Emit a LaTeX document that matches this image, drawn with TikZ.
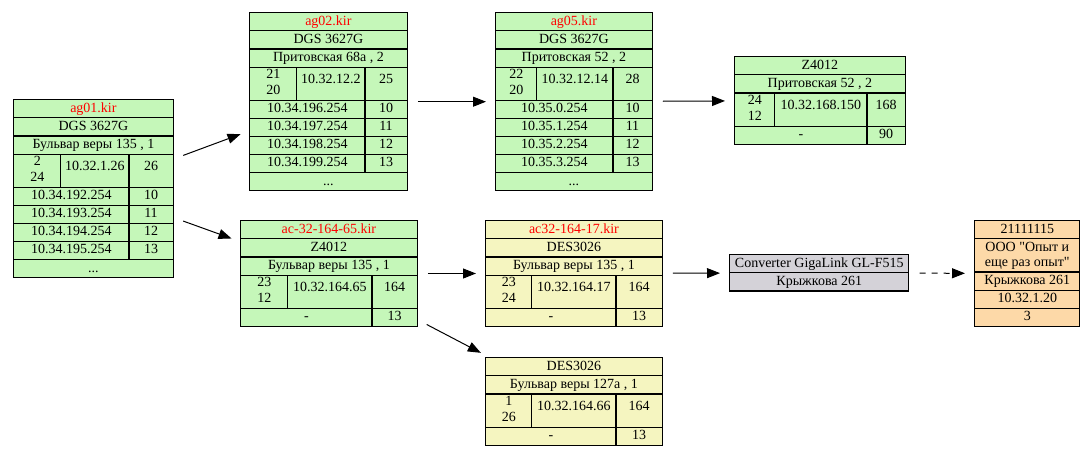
\documentclass[tikz,border=0pt]{standalone}
\usepackage{fontspec}
\setmainfont{Liberation Serif}
\usepackage{array}
\usetikzlibrary{arrows.meta}
\newcolumntype{C}[1]{>{\centering\arraybackslash}m{#1}}
\setlength\tabcolsep{0pt}
\setlength\arrayrulewidth{1.1pt}
\renewcommand\arraystretch{1.1333}
\newcommand\ports[2]{{\renewcommand\arraystretch{1.0667}\begin{tabular}{@{}c@{}}#1\\#2\end{tabular}}}
\definecolor{devgreen}{RGB}{197,247,185}
\definecolor{devyellow}{RGB}{245,245,192}
\definecolor{devgray}{RGB}{212,210,216}
\definecolor{devorange}{RGB}{253,217,168}

\begin{document}
\begin{tikzpicture}[x=1pt, y=-1pt, >={Triangle[length=13pt,width=10pt]},
    dev/.style={fill=#1, inner sep=0pt, anchor=north west, font=\fontsize{14}{15}\selectfont},
    link/.style={->, line width=1pt, shorten <=10pt, shorten >=9pt}]
      \useasboundingbox (0,0) rectangle (1084,453);
      % switches
      \node[dev=devgreen] (ag01) at (13,99) {\begin{tabular}{|C{46pt}|C{67pt}|C{43pt}|}\hline
        \multicolumn{3}{|c|}{\color{red}ag01.kir}\\\hline
        \multicolumn{3}{|c|}{DGS 3627G}\\\hline
        \multicolumn{3}{|c|}{Бульвар веры 135 , 1}\\\hline
        \ports{2}{24} & 10.32.1.26 & 26\\\hline
        \multicolumn{2}{|c|}{10.34.192.254} & 10\\\hline
        \multicolumn{2}{|c|}{10.34.193.254} & 11\\\hline
        \multicolumn{2}{|c|}{10.34.194.254} & 12\\\hline
        \multicolumn{2}{|c|}{10.34.195.254} & 13\\\hline
        \multicolumn{3}{|c|}{...}\\\hline
      \end{tabular}};
      \node[dev=devgreen] (ag02) at (249,12) {\begin{tabular}{|C{46pt}|C{67pt}|C{41pt}|}\hline
        \multicolumn{3}{|c|}{\color{red}ag02.kir}\\\hline
        \multicolumn{3}{|c|}{DGS 3627G}\\\hline
        \multicolumn{3}{|c|}{Притовская 68а , 2}\\\hline
        \ports{21}{20} & 10.32.12.2 & 25\\\hline
        \multicolumn{2}{|c|}{10.34.196.254} & 10\\\hline
        \multicolumn{2}{|c|}{10.34.197.254} & 11\\\hline
        \multicolumn{2}{|c|}{10.34.198.254} & 12\\\hline
        \multicolumn{2}{|c|}{10.34.199.254} & 13\\\hline
        \multicolumn{3}{|c|}{...}\\\hline
      \end{tabular}};
      \node[dev=devgreen] (ag05) at (495,12) {\begin{tabular}{|C{40pt}|C{75pt}|C{38pt}|}\hline
        \multicolumn{3}{|c|}{\color{red}ag05.kir}\\\hline
        \multicolumn{3}{|c|}{DGS 3627G}\\\hline
        \multicolumn{3}{|c|}{Притовская 52 , 2}\\\hline
        \ports{22}{20} & 10.32.12.14 & 28\\\hline
        \multicolumn{2}{|c|}{10.35.0.254} & 10\\\hline
        \multicolumn{2}{|c|}{10.35.1.254} & 11\\\hline
        \multicolumn{2}{|c|}{10.35.2.254} & 12\\\hline
        \multicolumn{2}{|c|}{10.35.3.254} & 13\\\hline
        \multicolumn{3}{|c|}{...}\\\hline
      \end{tabular}};
      \node[dev=devgreen] (z4012) at (734,56) {\begin{tabular}{|C{39pt}|C{91pt}|C{37pt}|}\hline
        \multicolumn{3}{|c|}{Z4012}\\\hline
        \multicolumn{3}{|c|}{Притовская 52 , 2}\\\hline
        \ports{24}{12} & 10.32.168.150 & 168\\\hline
        \multicolumn{2}{|c|}{-} & 90\\\hline
      \end{tabular}};
      \node[dev=devgreen] (ac65) at (240,220) {\begin{tabular}{|C{46pt}|C{83pt}|C{44pt}|}\hline
        \multicolumn{3}{|c|}{\color{red}ac-32-164-65.kir}\\\hline
        \multicolumn{3}{|c|}{Z4012}\\\hline
        \multicolumn{3}{|c|}{Бульвар веры 135 , 1}\\\hline
        \ports{23}{12} & 10.32.164.65 & 164\\\hline
        \multicolumn{2}{|c|}{-} & 13\\\hline
      \end{tabular}};
      \node[dev=devyellow] (ac17) at (485,220) {\begin{tabular}{|C{45pt}|C{83pt}|C{45pt}|}\hline
        \multicolumn{3}{|c|}{\color{red}ac32-164-17.kir}\\\hline
        \multicolumn{3}{|c|}{DES3026}\\\hline
        \multicolumn{3}{|c|}{Бульвар веры 135 , 1}\\\hline
        \ports{23}{24} & 10.32.164.17 & 164\\\hline
        \multicolumn{2}{|c|}{-} & 13\\\hline
      \end{tabular}};
      \node[dev=devyellow] (des) at (485,357) {\begin{tabular}{|C{45pt}|C{83pt}|C{45pt}|}\hline
        \multicolumn{3}{|c|}{DES3026}\\\hline
        \multicolumn{3}{|c|}{Бульвар веры 127а , 1}\\\hline
        \ports{1}{26} & 10.32.164.66 & 164\\\hline
        \multicolumn{2}{|c|}{-} & 13\\\hline
      \end{tabular}};
      \node[dev=devgray] (conv) at (729,254) {\begin{tabular}{|C{178pt}|}\hline
        Converter GigaLink GL-F515\\\hline
        Крыжкова 261\\\hline
      \end{tabular}};
      \node[dev=devorange] (ooo) at (974,220) {\begin{tabular}{|C{104pt}|}\hline
        21111115\\\hline
        ООО \textquotedbl Опыт и\par еще раз опыт\textquotedbl\\\hline
        Крыжкова 261\\\hline
        10.32.1.20\\\hline
        3\\\hline
      \end{tabular}};
      % links
      \draw [link] (ag01) to (ag02);
      \draw [link] (ag01) to (ac65);
      \draw [link] (ag02) to (ag05);
      \draw [link] (ag05) to (z4012);
      \draw [link] (ac65) to (ac17);
      \draw [link] (ac65) to (des);
      \draw [link] (ac17) to (conv);
      \draw [link, dash pattern=on 6pt off 6pt] (conv) to (ooo);
    \end{tikzpicture}
\end{document}
